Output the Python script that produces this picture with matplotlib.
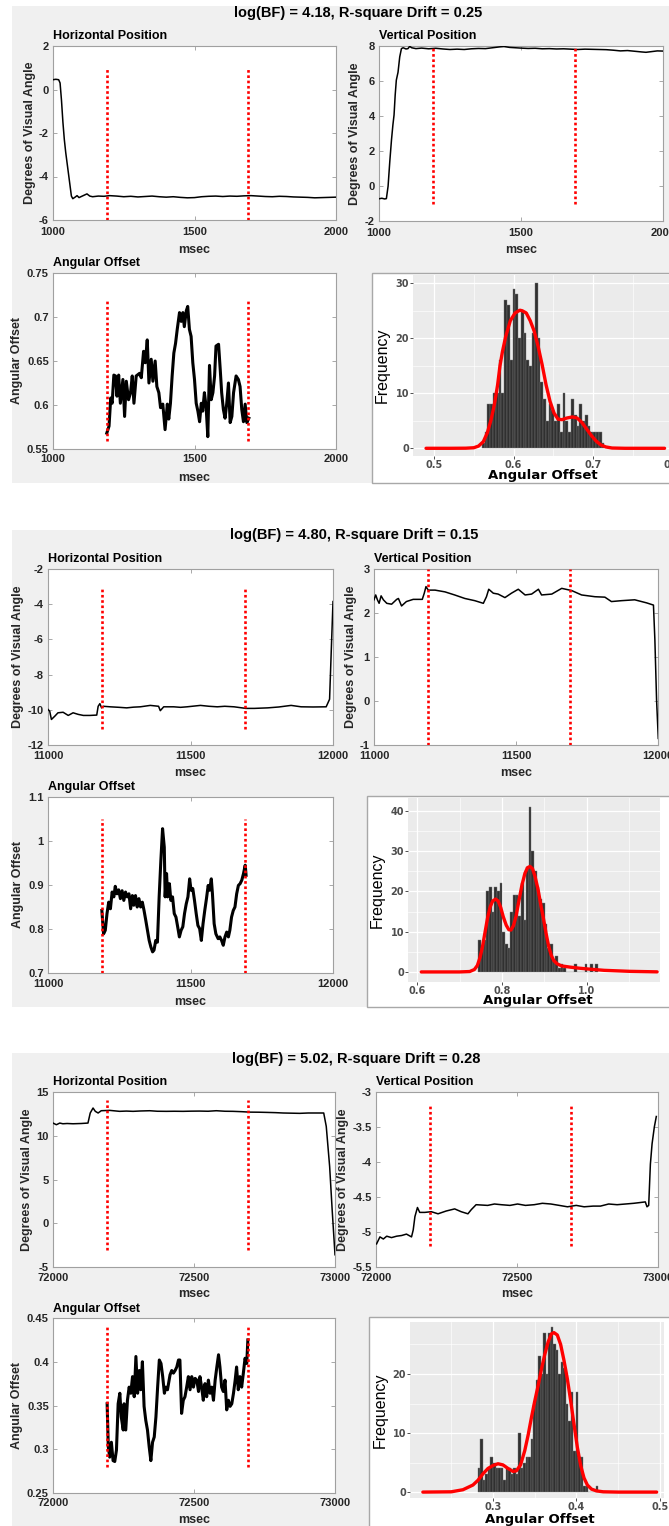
"""
Gaze drift panels: three trials, each with horizontal/vertical position,
angular offset and a histogram of angular offset with a density fit.
"""

import numpy as np
import matplotlib
matplotlib.use("Agg")
import matplotlib.pyplot as plt
from matplotlib.patches import Rectangle
from matplotlib.ticker import FormatStrFormatter, FixedLocator
from matplotlib import font_manager

# ---------------- data ----------------
titles = ["log(BF) = 4.18, R-square Drift = 0.25",
          "log(BF) = 4.80, R-square Drift = 0.15",
          "log(BF) = 5.02, R-square Drift = 0.28"]

# trial 1 (1000 - 2000 ms)
horiz1 = [(1000, 0.45), (1010, 0.47), (1020, 0.45), (1025, 0.3), (1030, -0.5), (1035, -1.5),
          (1040, -2.3), (1045, -2.9), (1050, -3.4), (1055, -3.9), (1060, -4.4), (1065, -4.9),
          (1070, -5.02), (1078, -4.95), (1085, -4.88), (1092, -4.97), (1100, -4.92), (1110, -4.86),
          (1120, -4.8), (1130, -4.9), (1140, -4.93), (1160, -4.9), (1180, -4.91), (1200, -4.88),
          (1225, -4.9), (1250, -4.93), (1275, -4.91), (1300, -4.94), (1325, -4.92), (1350, -4.9),
          (1375, -4.93), (1400, -4.95), (1425, -4.93), (1450, -4.96), (1475, -4.98), (1500, -4.97),
          (1525, -4.93), (1550, -4.91), (1575, -4.9), (1600, -4.92), (1625, -4.9), (1650, -4.91),
          (1675, -4.89), (1700, -4.88), (1725, -4.9), (1750, -4.92), (1775, -4.93), (1800, -4.91),
          (1825, -4.92), (1850, -4.94), (1875, -4.95), (1900, -4.96), (1925, -4.98), (1950, -4.97),
          (1975, -4.96), (2000, -4.95)]
vert1 = [(1000, -0.73), (1010, -0.7), (1020, -0.74), (1026, -0.72), (1032, -0.01), (1038, 1.4),
         (1044, 2.64), (1049, 3.5), (1053, 4.06), (1057, 5.2), (1061, 6.05), (1067, 6.5),
         (1073, 7.38), (1079, 7.85), (1085, 7.9), (1095, 7.83), (1102, 7.85), (1108, 7.98),
         (1115, 7.9), (1130, 7.85), (1150, 7.88), (1175, 7.84), (1200, 7.87), (1225, 7.83),
         (1250, 7.8), (1275, 7.82), (1300, 7.8), (1325, 7.84), (1350, 7.86), (1375, 7.85),
         (1400, 7.9), (1425, 7.95), (1440, 7.97), (1460, 7.92), (1480, 7.9), (1500, 7.88),
         (1525, 7.86), (1550, 7.87), (1575, 7.84), (1600, 7.85), (1625, 7.83), (1650, 7.84),
         (1675, 7.82), (1700, 7.8), (1725, 7.82), (1750, 7.81), (1775, 7.8), (1800, 7.79),
         (1825, 7.76), (1850, 7.72), (1875, 7.74), (1900, 7.7), (1925, 7.66), (1940, 7.64),
         (1960, 7.68), (1980, 7.72), (2000, 7.71)]
angle1 = [(1190, 0.568), (1198, 0.576), (1204, 0.608), (1209, 0.602), (1215, 0.634), (1221, 0.633),
          (1226, 0.61), (1232, 0.634), (1238, 0.602), (1247, 0.629), (1253, 0.587), (1259, 0.627),
          (1267, 0.606), (1274, 0.614), (1280, 0.633), (1286, 0.602), (1294, 0.633), (1306, 0.636),
          (1312, 0.631), (1320, 0.661), (1326, 0.648), (1333, 0.674), (1339, 0.625), (1347, 0.652),
          (1353, 0.627), (1361, 0.65), (1367, 0.621), (1374, 0.614), (1380, 0.597), (1388, 0.601),
          (1396, 0.572), (1404, 0.601), (1409, 0.584), (1415, 0.602), (1421, 0.633), (1427, 0.659),
          (1433, 0.67), (1439, 0.686), (1447, 0.705), (1453, 0.695), (1459, 0.705), (1464, 0.689),
          (1471, 0.707), (1476, 0.712), (1482, 0.686), (1488, 0.678), (1494, 0.648), (1500, 0.629),
          (1506, 0.602), (1512, 0.593), (1518, 0.581), (1524, 0.602), (1529, 0.593), (1535, 0.614),
          (1541, 0.598), (1547, 0.564), (1553, 0.645), (1559, 0.606), (1565, 0.614), (1571, 0.633),
          (1576, 0.667), (1585, 0.669), (1591, 0.64), (1596, 0.614), (1602, 0.595), (1608, 0.585),
          (1614, 0.602), (1620, 0.625), (1626, 0.58), (1632, 0.587), (1638, 0.614), (1647, 0.633),
          (1655, 0.629), (1661, 0.621), (1667, 0.595), (1673, 0.581), (1679, 0.601), (1685, 0.58),
          (1692, 0.585)]
hist1_start, hist1_bw = 0.562, 0.0035
hist1_counts = [1, 3, 8, 8, 10, 10, 16, 10, 27, 26, 16, 29, 28, 20, 25, 21, 16, 15, 21, 30, 20,
                12, 9, 5, 8, 7, 5, 8, 3, 10, 5, 3, 9, 6, 4, 8, 5, 6, 4, 3, 3, 3, 3, 1]
dens1 = [(0.49, 0), (0.52, 0), (0.54, 0.02), (0.55, 0.1), (0.556, 0.4), (0.562, 1.2), (0.567, 2.8),
         (0.572, 5.3), (0.576, 8), (0.58, 11.5), (0.583, 15), (0.586, 17.5), (0.59, 20.2),
         (0.596, 23.2), (0.602, 24.6), (0.608, 25.1), (0.611, 25.0), (0.616, 24.6), (0.621, 23.2),
         (0.626, 21.3), (0.631, 18.5), (0.636, 15.2), (0.641, 11.5), (0.646, 8.5), (0.651, 6.4),
         (0.656, 5.3), (0.661, 5.2), (0.667, 5.5), (0.674, 5.7), (0.68, 5.5), (0.686, 4.7),
         (0.692, 3.5), (0.698, 2.3), (0.704, 1.3), (0.71, 0.6), (0.716, 0.25), (0.724, 0.05),
         (0.74, 0), (0.79, 0)]

# trial 2 (11000 - 12000 ms)
horiz2 = [(11000, -9.98), (11006, -10.08), (11012, -10.55), (11024, -10.36), (11035, -10.17),
          (11053, -10.14), (11071, -10.32), (11088, -10.17), (11106, -10.26), (11124, -10.32),
          (11147, -10.32), (11171, -10.3), (11176, -9.8), (11182, -9.65), (11188, -9.89),
          (11194, -9.8), (11218, -9.83), (11250, -9.86), (11276, -9.89), (11300, -9.85),
          (11324, -9.83), (11359, -9.75), (11388, -9.8), (11394, -10.05), (11406, -9.83),
          (11441, -9.83), (11465, -9.86), (11488, -9.83), (11535, -9.75), (11565, -9.8),
          (11594, -9.83), (11620, -9.8), (11653, -9.83), (11694, -9.92), (11724, -9.92),
          (11771, -9.89), (11810, -9.84), (11853, -9.75), (11888, -9.83), (11930, -9.84),
          (11976, -9.83), (11988, -9.4), (11994, -6.6), (12000, -3.85)]
vert2 = [(11000, 2.3), (11006, 2.41), (11012, 2.3), (11018, 2.22), (11025, 2.39), (11033, 2.3),
         (11045, 2.22), (11062, 2.2), (11080, 2.31), (11086, 2.33), (11097, 2.16), (11114, 2.26),
         (11138, 2.31), (11170, 2.31), (11177, 2.45), (11183, 2.6), (11191, 2.52), (11215, 2.52),
         (11250, 2.48), (11284, 2.41), (11320, 2.33), (11355, 2.28), (11385, 2.22), (11396, 2.37),
         (11404, 2.54), (11420, 2.45), (11437, 2.43), (11461, 2.35), (11484, 2.45), (11508, 2.54),
         (11532, 2.41), (11555, 2.43), (11579, 2.54), (11590, 2.41), (11626, 2.43), (11661, 2.56),
         (11696, 2.51), (11731, 2.41), (11778, 2.37), (11813, 2.36), (11836, 2.26), (11871, 2.28),
         (11918, 2.3), (11960, 2.23), (11984, 2.18), (11989, 1.39), (11995, 0.02), (12001, -0.85)]
angle2 = [(11189, 0.842), (11195, 0.789), (11201, 0.797), (11207, 0.835), (11213, 0.861),
          (11219, 0.846), (11225, 0.884), (11231, 0.873), (11236, 0.897), (11242, 0.88),
          (11248, 0.889), (11254, 0.869), (11260, 0.887), (11266, 0.865), (11272, 0.884),
          (11278, 0.873), (11284, 0.88), (11290, 0.846), (11296, 0.876), (11301, 0.854),
          (11307, 0.876), (11313, 0.85), (11319, 0.869), (11325, 0.85), (11331, 0.861),
          (11337, 0.842), (11343, 0.82), (11349, 0.797), (11355, 0.774), (11361, 0.759),
          (11367, 0.748), (11372, 0.752), (11378, 0.774), (11384, 0.77), (11390, 0.873),
          (11396, 0.956), (11402, 1.028), (11408, 0.986), (11411, 0.873), (11416, 0.926),
          (11420, 0.873), (11426, 0.903), (11431, 0.865), (11437, 0.873), (11443, 0.835),
          (11449, 0.827), (11455, 0.805), (11461, 0.782), (11467, 0.797), (11473, 0.805),
          (11479, 0.835), (11485, 0.857), (11491, 0.873), (11497, 0.914), (11502, 0.888),
          (11508, 0.892), (11514, 0.865), (11520, 0.835), (11526, 0.808), (11532, 0.801),
          (11538, 0.774), (11544, 0.812), (11550, 0.842), (11556, 0.869), (11562, 0.899),
          (11567, 0.888), (11573, 0.914), (11577, 0.88), (11583, 0.812), (11589, 0.789),
          (11597, 0.778), (11603, 0.782), (11609, 0.774), (11615, 0.763), (11621, 0.782),
          (11627, 0.793), (11633, 0.782), (11638, 0.797), (11644, 0.827), (11650, 0.842),
          (11656, 0.85), (11662, 0.88), (11668, 0.899), (11674, 0.903), (11680, 0.911),
          (11686, 0.926), (11692, 0.945), (11695, 0.922)]
hist2_start, hist2_bw = 0.7475, 0.00625
hist2_counts = [8, 6, 8, 20, 21, 15, 21, 20, 22, 10, 7, 6, 15, 19, 19, 14, 22, 13, 26, 41, 30,
                25, 21, 18, 17, 12, 6, 7, 3, 4, 1, 2, 1, 0, 0, 0, 2, 0, 0, 0, 2, 0, 2, 0, 2]
dens2 = [(0.61, 0), (0.7, 0), (0.724, 0.1), (0.735, 0.6), (0.742, 1.6), (0.748, 3.5), (0.754, 6.2),
         (0.76, 9.8), (0.766, 13.4), (0.772, 16.1), (0.778, 17.6), (0.785, 18.1), (0.791, 17.6),
         (0.797, 16), (0.803, 13.7), (0.81, 11.6), (0.816, 10.5), (0.821, 10.4), (0.827, 11.5),
         (0.833, 13.8), (0.84, 17.8), (0.847, 21.6), (0.854, 24.5), (0.86, 25.9), (0.866, 26.2),
         (0.872, 25.6), (0.878, 23.6), (0.885, 20.4), (0.891, 16.8), (0.898, 13), (0.904, 9.4),
         (0.91, 6.3), (0.916, 4.1), (0.922, 2.8), (0.93, 2), (0.94, 1.5), (0.96, 1.2), (0.98, 0.95),
         (1.0, 0.75), (1.04, 0.4), (1.1, 0.15), (1.165, 0.02)]

# trial 3 (72000 - 73000 ms)
horiz3 = [(72000, 11.45), (72012, 11.26), (72024, 11.45), (72035, 11.37), (72050, 11.4),
          (72071, 11.37), (72100, 11.4), (72124, 11.45), (72132, 12.6), (72142, 13.17),
          (72150, 12.79), (72160, 12.6), (72171, 12.86), (72201, 12.9), (72236, 12.79),
          (72260, 12.82), (72284, 12.79), (72310, 12.83), (72343, 12.86), (72370, 12.8),
          (72402, 12.79), (72430, 12.8), (72461, 12.79), (72490, 12.81), (72520, 12.82),
          (72550, 12.8), (72579, 12.86), (72610, 12.8), (72638, 12.79), (72670, 12.75),
          (72697, 12.7), (72730, 12.69), (72757, 12.67), (72790, 12.64), (72816, 12.6),
          (72845, 12.58), (72875, 12.56), (72905, 12.6), (72934, 12.6), (72960, 12.6),
          (72969, 11.07), (72981, 6.49), (72990, 1.5), (73000, -3.6)]
vert3 = [(72002, -5.17), (72014, -5.07), (72026, -5.1), (72038, -5.06), (72055, -5.08),
         (72073, -5.06), (72091, -5.05), (72108, -5.03), (72126, -5.07), (72132, -4.97),
         (72138, -4.78), (72147, -4.65), (72155, -4.72), (72173, -4.72), (72196, -4.71),
         (72220, -4.74), (72249, -4.7), (72279, -4.67), (72302, -4.71), (72326, -4.74),
         (72338, -4.68), (72355, -4.61), (72396, -4.62), (72420, -4.6), (72444, -4.61),
         (72475, -4.62), (72502, -4.6), (72530, -4.62), (72561, -4.61), (72590, -4.59),
         (72620, -4.6), (72650, -4.62), (72679, -4.64), (72710, -4.62), (72738, -4.64),
         (72770, -4.63), (72796, -4.63), (72825, -4.6), (72855, -4.61), (72885, -4.6),
         (72914, -4.59), (72935, -4.58), (72955, -4.57), (72961, -4.64), (72967, -4.62),
         (72973, -4.03), (72979, -3.74), (72987, -3.5), (72994, -3.35)]
angle3 = [(72192, 0.352), (72196, 0.303), (72201, 0.291), (72207, 0.308), (72213, 0.287),
          (72219, 0.286), (72225, 0.299), (72231, 0.352), (72237, 0.364), (72242, 0.337),
          (72249, 0.322), (72252, 0.352), (72258, 0.322), (72264, 0.356), (72270, 0.371),
          (72276, 0.364), (72282, 0.383), (72288, 0.36), (72294, 0.406), (72300, 0.364),
          (72306, 0.39), (72311, 0.368), (72317, 0.4), (72323, 0.349), (72329, 0.333),
          (72335, 0.322), (72341, 0.303), (72347, 0.287), (72353, 0.308), (72359, 0.314),
          (72365, 0.337), (72371, 0.371), (72377, 0.402), (72383, 0.398), (72389, 0.383),
          (72395, 0.364), (72400, 0.371), (72406, 0.368), (72415, 0.385), (72421, 0.39),
          (72427, 0.387), (72433, 0.39), (72439, 0.394), (72445, 0.402), (72450, 0.402),
          (72456, 0.341), (72462, 0.356), (72468, 0.36), (72474, 0.371), (72480, 0.383),
          (72486, 0.368), (72492, 0.383), (72498, 0.371), (72504, 0.381), (72510, 0.379),
          (72516, 0.366), (72521, 0.383), (72527, 0.371), (72533, 0.356), (72539, 0.375),
          (72545, 0.36), (72551, 0.379), (72557, 0.364), (72563, 0.371), (72569, 0.356),
          (72575, 0.379), (72581, 0.394), (72587, 0.408), (72592, 0.394), (72598, 0.371),
          (72604, 0.366), (72610, 0.379), (72616, 0.345), (72622, 0.356), (72628, 0.349),
          (72634, 0.352), (72640, 0.364), (72646, 0.379), (72651, 0.394), (72657, 0.368),
          (72663, 0.383), (72669, 0.371), (72675, 0.387), (72681, 0.404), (72687, 0.398),
          (72691, 0.425)]
hist3_start, hist3_bw = 0.2835, 0.003
hist3_counts = [4, 9, 2, 3, 4, 6, 5, 4, 4, 4, 2, 4, 4, 3, 4, 3, 10, 4, 5, 6, 6, 9, 15, 19, 23,
                20, 27, 20, 27, 28, 25, 24, 20, 22, 21, 15, 12, 17, 7, 17, 6, 6, 1, 1, 0, 0, 0, 1]
dens3 = [(0.216, 0), (0.25, 0.05), (0.264, 0.4), (0.276, 1.2), (0.282, 2.0), (0.288, 3.1),
         (0.294, 4.0), (0.3, 4.5), (0.306, 4.8), (0.312, 4.6), (0.318, 4.0), (0.324, 3.5),
         (0.328, 3.6), (0.333, 4.6), (0.338, 7.0), (0.342, 9.6), (0.346, 12.6), (0.35, 15.4),
         (0.354, 18.0), (0.358, 20.8), (0.362, 23.3), (0.366, 25.4), (0.37, 26.8), (0.373, 27.0),
         (0.377, 26.6), (0.381, 25.0), (0.385, 22.3), (0.389, 19.2), (0.393, 15.5), (0.397, 11.5),
         (0.401, 7.6), (0.405, 4.5), (0.409, 2.4), (0.413, 1.2), (0.418, 0.5), (0.424, 0.2),
         (0.432, 0.05), (0.45, 0), (0.496, 0)]

# analysis window (red dotted markers)
window1 = [1190, 1690]
window2 = [11190, 11690]
window3 = [72190, 72690]

# ---------------- figure ----------------
W, H = 669, 1526
plt.rcParams['font.family'] = ['Liberation Sans', 'DejaVu Sans']
plt.rcParams['font.weight'] = 'bold'

names = {f.name for f in font_manager.fontManager.ttflist}
narrow = 'Liberation Sans Narrow' if 'Liberation Sans Narrow' in names else 'Liberation Sans'

fig = plt.figure(figsize=(W / 100, H / 100), dpi=100)
fig.patch.set_facecolor('white')


def rect(l, t, r, b):
    return [l / W, 1 - b / H, (r - l) / W, (b - t) / H]


def put(x, y, s, **kw):
    fig.text(x / W, 1 - y / H, s, **kw)


def box(l, t, r, b, **kw):
    fig.add_artist(Rectangle((l / W, 1 - b / H), (r - l) / W, (b - t) / H,
                             transform=fig.transFigure, **kw))


def matlab_ax(pos, pairs, xlim, ylim, yticks, window, red_y, lw, title, ylab, title_y,
              ylab_x, msec_y, pad_x=4):
    l, t, r, b = pos
    ax = fig.add_axes(rect(l, t, r, b))
    arr = np.array(pairs)
    ax.plot(arr[:, 0], arr[:, 1], color='black', lw=lw, solid_joinstyle='round', zorder=3)
    for x in window:
        ax.plot([x, x], red_y, color='#ff0000', lw=1.9, ls=(0, (1, 1)), zorder=4)
    ax.set_xlim(xlim)
    ax.set_ylim(ylim)
    ax.set_xticks([xlim[0], xlim[0] + 500, xlim[1]])
    ax.set_yticks(yticks)
    ax.yaxis.set_major_formatter(FormatStrFormatter('%g'))
    ax.tick_params(axis='both', direction='in', length=3, width=0.6, top=True, right=True,
                   color='#9a9a9a', labelcolor='#262626', labelsize=8)
    ax.tick_params(axis='x', pad=pad_x)
    ax.tick_params(axis='y', pad=3)
    for s in ax.spines.values():
        s.set_color('#a0a0a0')
        s.set_linewidth(0.8)
    put(l, title_y, title, ha='left', va='center', fontsize=9, color='black')
    put(ylab_x, (t + b) / 2, ylab, ha='center', va='center', rotation=90, fontsize=9,
        color='#262626')
    put((l + r) / 2, msec_y, 'msec', ha='center', va='center', fontsize=9, color='#262626')
    return ax


def gg_hist(outer, panel, xlim, ylim, xticks, xlabels, yticks, xminor, yminor,
            start, bw, counts, dens, freq_xy, ao_xy):
    box(*outer, facecolor='white', edgecolor='#a8a8a8', lw=1.0, zorder=-0.5)
    ax = fig.add_axes(rect(*panel))
    ax.set_facecolor('#ebebeb')
    centers = start + bw * np.arange(len(counts))
    ax.bar(centers, counts, width=bw, color='#303030', edgecolor='#7a7a7a', linewidth=0.3,
           zorder=2)
    d = np.array(dens)
    ax.plot(d[:, 0], d[:, 1], color='#ff0000', lw=2.4, zorder=3, solid_capstyle='round')
    ax.set_xlim(xlim)
    ax.set_ylim(ylim)
    ax.set_xticks(xticks)
    ax.set_xticklabels(xlabels)
    ax.set_yticks(yticks)
    ax.xaxis.set_minor_locator(FixedLocator(xminor))
    ax.yaxis.set_minor_locator(FixedLocator(yminor))
    ax.grid(True, which='major', color='white', lw=0.9)
    ax.grid(True, which='minor', color='white', lw=0.45)
    ax.set_axisbelow(True)
    for s in ax.spines.values():
        s.set_visible(False)
    ax.tick_params(which='major', length=2, width=0.6, color='#333333', labelcolor='#4d4d4d',
                   labelsize=7, pad=0.8)
    ax.tick_params(which='minor', length=0)
    for lab in ax.get_xticklabels() + ax.get_yticklabels():
        lab.set_family(['DejaVu Sans'])
        lab.set_weight('bold')
    put(freq_xy[0], freq_xy[1], 'Frequency', ha='center', va='center', rotation=90,
        fontsize=11.5, fontweight='normal', family=[narrow, 'DejaVu Sans'], color='black')
    put(ao_xy[0], ao_xy[1], 'Angular Offset', ha='center', va='center', fontsize=9.5,
        family=['DejaVu Sans'], fontweight='bold', color='black')
    return ax


# gray figure backgrounds of the three trials
for t, b in [(6, 483), (530, 1007), (1053, 1530)]:
    box(12, t, 672, b, facecolor='#f0f0f0', edgecolor='none', zorder=-1)

# ---- trial 1 ----
put(358, 13, titles[0], ha='center', va='center', fontsize=10.5, color='black')
matlab_ax((53, 46, 336, 220), horiz1, (1000, 2000), (-6, 2), [-6, -4, -2, 0, 2], window1,
          [-6, 1], 1.1, 'Horizontal Position', 'Degrees of Visual Angle', 36, 30, 250, pad_x=5)
matlab_ax((379, 46, 663, 221), vert1, (1000, 2000), (-2, 8), [-2, 0, 2, 4, 6, 8], window1,
          [-1, 8], 1.1, 'Vertical Position', 'Degrees of Visual Angle', 36, 355, 250, pad_x=5)
matlab_ax((53, 273, 336, 449), angle1, (1000, 2000), (0.55, 0.75),
          [0.55, 0.6, 0.65, 0.7, 0.75], window1, [0.559, 0.72], 2.2, 'Angular Offset',
          'Angular Offset', 263, 17, 478, pad_x=3.5)
gg_hist((372, 273, 672, 483), (413, 275, 680, 456), (0.4736, 0.8094), (-1.4, 31.5),
        [0.5, 0.6, 0.7, 0.8], ['0.5', '0.6', '0.7', '0.8'], [0, 10, 20, 30],
        [0.55, 0.65, 0.75], [5, 15, 25], hist1_start, hist1_bw, hist1_counts, dens1,
        (382, 365), (543, 475))

# ---- trial 2 ----
put(354, 535, titles[1], ha='center', va='center', fontsize=10.5, color='black')
matlab_ax((48, 569, 333, 745), horiz2, (11000, 12000), (-12, -2),
          [-12, -10, -8, -6, -4, -2], window2, [-11.1, -3], 1.1, 'Horizontal Position',
          'Degrees of Visual Angle', 559, 18, 773, pad_x=4)
matlab_ax((374, 569, 658, 745), vert2, (11000, 12000), (-1, 3), [-1, 0, 1, 2, 3], window2,
          [-1, 3], 1.1, 'Vertical Position', 'Degrees of Visual Angle', 559, 351, 773, pad_x=4)
matlab_ax((48, 797, 333, 973), angle2, (11000, 12000), (0.7, 1.1),
          [0.7, 0.8, 0.9, 1.0, 1.1], window2, [0.7, 1.05], 2.2, 'Angular Offset',
          'Angular Offset', 787, 18, 1002, pad_x=4)
gg_hist((367, 796, 672, 1007), (408, 798, 660, 982), (0.5788, 1.1718), (-2.5, 43.2),
        [0.6, 0.8, 1.0], ['0.6', '0.8', '1.0'], [0, 10, 20, 30, 40],
        [0.7, 0.9, 1.1], [5, 15, 25, 35], hist2_start, hist2_bw, hist2_counts, dens2,
        (377, 890), (538, 1000))

# ---- trial 3 ----
put(356, 1059, titles[2], ha='center', va='center', fontsize=10.5, color='black')
matlab_ax((53, 1092, 335, 1267), horiz3, (72000, 73000), (-5, 15), [-5, 0, 5, 10, 15],
          window3, [-3.1, 14.1], 1.1, 'Horizontal Position', 'Degrees of Visual Angle',
          1082, 27, 1294, pad_x=4)
matlab_ax((376, 1092, 658, 1267), vert3, (72000, 73000), (-5.5, -3),
          [-5.5, -5, -4.5, -4, -3.5, -3], window3, [-5.2, -3.2], 1.1, 'Vertical Position',
          'Degrees of Visual Angle', 1082, 343, 1294, pad_x=4)
matlab_ax((53, 1318, 335, 1493), angle3, (72000, 73000), (0.25, 0.45),
          [0.25, 0.3, 0.35, 0.4, 0.45], window3, [0.28, 0.44], 2.2, 'Angular Offset',
          'Angular Offset', 1309, 17, 1520, pad_x=3.5)
gg_hist((369, 1317, 672, 1530), (410, 1322, 664, 1498), (0.2006, 0.5048), (-1.0, 28.8),
        [0.3, 0.4, 0.5], ['0.3', '0.4', '0.5'], [0, 10, 20],
        [0.25, 0.35, 0.45], [5, 15, 25], hist3_start, hist3_bw, hist3_counts, dens3,
        (380, 1410), (540, 1519))

fig.savefig('out.png', dpi=100)
